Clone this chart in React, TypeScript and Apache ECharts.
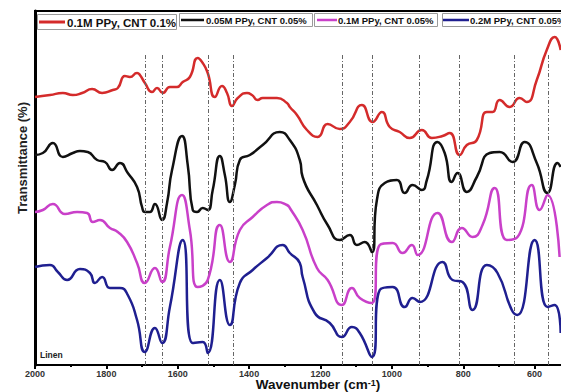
import React, { useEffect, useRef } from "react";
import * as echarts from "echarts";

// [wavenumber (cm-1), transmittance (arbitrary, offset per curve)]
const red01: [number, number][] = [
  [2000, 268], [1958, 270], [1922, 272], [1894, 270], [1868, 272], [1840, 276], [1812, 272],
  [1782, 275], [1768, 277], [1748, 289], [1734, 288], [1714, 292], [1706, 290], [1692, 282],
  [1672, 273], [1658, 277], [1642, 272], [1622, 278], [1602, 278], [1586, 283], [1566, 288],
  [1544, 307], [1530, 302], [1516, 292], [1496, 268], [1476, 279], [1462, 272], [1448, 259],
  [1432, 267], [1406, 272], [1392, 270], [1376, 265], [1362, 267], [1322, 267], [1294, 262],
  [1286, 258], [1266, 250], [1238, 235], [1208, 228], [1180, 241], [1146, 236], [1118, 243],
  [1084, 260], [1054, 243], [1028, 253], [1006, 238], [978, 233], [950, 227], [916, 235],
  [888, 227], [858, 229], [838, 232], [810, 210], [790, 220], [762, 225], [734, 253],
  [718, 253], [698, 265], [670, 258], [642, 267], [622, 263], [594, 285], [566, 315],
  [544, 328], [527, 315],
];
const black005: [number, number][] = [
  [2000, 210], [1978, 212], [1950, 222], [1922, 208], [1894, 212], [1874, 214], [1852, 213],
  [1826, 205], [1804, 203], [1784, 195], [1762, 202], [1740, 192], [1714, 178], [1700, 158],
  [1692, 153], [1678, 153], [1664, 161], [1644, 145], [1630, 162], [1616, 195], [1588, 229],
  [1572, 200], [1558, 155], [1546, 153], [1530, 157], [1516, 155], [1502, 175], [1482, 209],
  [1468, 190], [1454, 163], [1440, 180], [1426, 205], [1398, 210], [1362, 220], [1314, 233],
  [1286, 225], [1258, 205], [1250, 188], [1210, 160], [1180, 140], [1146, 125], [1118, 130],
  [1098, 120], [1076, 123], [1056, 113], [1042, 165], [1020, 182], [986, 185], [964, 172],
  [942, 180], [916, 175], [902, 185], [872, 223], [852, 212], [832, 183], [816, 192],
  [790, 173], [762, 188], [726, 212], [698, 213], [662, 203], [628, 223], [594, 202],
  [564, 172], [536, 202], [527, 198],
];
const magenta01: [number, number][] = [
  [2000, 153], [1978, 155], [1950, 161], [1916, 151], [1882, 153], [1854, 152], [1838, 143],
  [1818, 145], [1790, 137], [1768, 133], [1742, 123], [1714, 102], [1692, 82], [1664, 97],
  [1644, 83], [1622, 118], [1588, 170], [1566, 135], [1544, 78], [1516, 85], [1482, 140],
  [1454, 103], [1426, 135], [1390, 148], [1350, 160], [1322, 163], [1294, 160], [1286, 157],
  [1250, 135], [1210, 97], [1180, 85], [1140, 60], [1112, 77], [1090, 67], [1056, 62],
  [1034, 120], [998, 122], [970, 112], [944, 120], [928, 110], [872, 152], [832, 123],
  [804, 137], [774, 128], [746, 140], [712, 177], [678, 125], [648, 128], [608, 180],
  [586, 155], [564, 170], [530, 108],
];
const blue02: [number, number][] = [
  [2000, 98], [1958, 100], [1936, 93], [1910, 85], [1874, 96], [1846, 92], [1832, 82],
  [1812, 88], [1790, 77], [1762, 77], [1740, 70], [1714, 45], [1692, 13], [1664, 37],
  [1644, 22], [1622, 58], [1586, 125], [1558, 22], [1530, 23], [1516, 12], [1482, 85],
  [1454, 40], [1426, 82], [1390, 95], [1350, 107], [1306, 120], [1286, 112], [1258, 102],
  [1250, 88], [1216, 52], [1174, 42], [1140, 28], [1112, 38], [1090, 32], [1056, 8],
  [1034, 75], [998, 78], [964, 58], [942, 67], [922, 63], [858, 103], [830, 85], [802, 83],
  [774, 55], [734, 100], [704, 92], [664, 55], [648, 50], [600, 125], [564, 58], [544, 60],
  [527, 32],
];
const peakLines: number[] = [1692, 1644, 1515, 1445, 1140, 1056, 924, 810, 658, 563];
const legendNames: string[] = [
  "0.1M PPy, CNT 0.1%",
  "0.05M PPy, CNT 0.05%",
  "0.1M PPy, CNT 0.05%",
  "0.2M PPy, CNT 0.05%",
];
const colors: string[] = ["#d42b2b", "#111111", "#c940c9", "#1f1f90"];

export default function App() {
  const ref = useRef<HTMLDivElement>(null);
  useEffect(() => {
    if (!ref.current) return;
    const chart = echarts.init(ref.current, null, { renderer: "svg" });
    const font = "'Liberation Sans', Arial, sans-serif";
    const legendBoxes = [
      { x: 37, y: 14, w: 139, h: 15, lx1: 39, lx2: 65, tx: 67, fs: 11.5 },
      { x: 179, y: 13, w: 133, h: 13, lx1: 181, lx2: 204, tx: 206, fs: 9.5 },
      { x: 314, y: 13, w: 123, h: 13, lx1: 317, lx2: 337, tx: 338, fs: 9.5 },
      { x: 442, y: 13, w: 130, h: 13, lx1: 443, lx2: 469, tx: 470, fs: 9.5 },
    ];
    const graphics: any[] = [];
    legendBoxes.forEach((b, i) => {
      graphics.push({
        type: "rect",
        shape: { x: b.x + 0.5, y: b.y + 0.5, width: b.w, height: b.h },
        style: { fill: "#fff", stroke: "#9a9a9a", lineWidth: 1 },
        z: 100,
      });
      graphics.push({
        type: "line",
        shape: { x1: b.lx1, y1: b.y + b.h / 2 + 0.5, x2: b.lx2, y2: b.y + b.h / 2 + 0.5 },
        style: { stroke: colors[i], lineWidth: i === 0 ? 3 : 2.5 },
        z: 101,
      });
      graphics.push({
        type: "text",
        x: b.tx,
        y: b.y + b.h / 2 + 1,
        style: {
          text: legendNames[i],
          fill: "#111",
          font: `bold ${b.fs}px ${font}`,
          verticalAlign: "middle",
          align: "left",
        },
        z: 101,
      });
    });
    graphics.push({
      type: "text",
      x: 22,
      y: 158,
      rotation: Math.PI / 2,
      style: {
        text: "Transmittance (%)",
        fill: "#222",
        font: `bold 13px ${font}`,
        align: "center",
        verticalAlign: "middle",
      },
    });
    graphics.push({
      type: "text",
      x: 318,
      y: 385,
      style: {
        text: "{a|Wavenumber (cm}{b|-1}{a|)}",
        align: "center",
        verticalAlign: "middle",
        rich: {
          a: { fontFamily: font, fontWeight: "bold", fontSize: 13.5, lineHeight: 13, fill: "#111", verticalAlign: "bottom" },
          b: { fontFamily: font, fontWeight: "bold", fontSize: 9, lineHeight: 13, fill: "#111", verticalAlign: "top" },
        },
      },
    });
    graphics.push({
      type: "text",
      x: 40,
      y: 355,
      style: {
        text: "Linen",
        fill: "#222",
        font: `bold 8.5px ${font}`,
        align: "left",
        verticalAlign: "middle",
      },
    });

    const mk = (data: [number, number][], i: number) => ({
      type: "line",
      data,
      showSymbol: false,
      smooth: 0.55,
      lineStyle: { color: colors[i], width: 2.5 },
      itemStyle: { color: colors[i] },
      z: 3 + i,
    });

    chart.setOption({
      animation: false,
      grid: {
        left: 35,
        top: 11,
        bottom: 27,
        right: -45,
        show: true,
        borderColor: "#000",
        borderWidth: 2,
        outerBoundsMode: "none",
        containLabel: false,
      },
      xAxis: {
        type: "value",
        inverse: true,
        min: 400,
        max: 2000,
        interval: 200,
        axisLine: { show: true, lineStyle: { color: "#000", width: 2 } },
        axisTick: { show: true, length: 4, lineStyle: { color: "#000", width: 2 } },
        minorTick: { show: true, splitNumber: 2, length: 2, lineStyle: { color: "#000", width: 2 } },
        axisLabel: {
          fontFamily: font,
          fontWeight: "bold",
          fontSize: 9,
          color: "#333",
          margin: 4,
          formatter: (v: number) => (v < 527 ? "" : String(v)),
        },
        splitLine: { show: false },
      },
      yAxis: {
        type: "value",
        min: 0,
        max: 354,
        axisLine: { show: true, lineStyle: { color: "#000", width: 3 } },
        axisTick: { show: false },
        axisLabel: { show: false },
        splitLine: { show: false },
      },
      graphic: graphics,
      series: [
        {
          type: "line",
          data: [],
          z: 2,
          markLine: {
            silent: true,
            symbol: "none",
            label: { show: false },
            lineStyle: { color: "#666", width: 1, type: [4, 2, 1, 2] },
            data: peakLines.map((p) => [{ coord: [p, 0] }, { coord: [p, 310] }]),
          },
        },
        mk(black005, 1),
        mk(red01, 0),
        mk(magenta01, 2),
        mk(blue02, 3),
      ],
    });
    return () => chart.dispose();
  }, []);
  return <div ref={ref} style={{ width: 561, height: 392, position: "absolute", left: 0, top: 0 }} />;
}
